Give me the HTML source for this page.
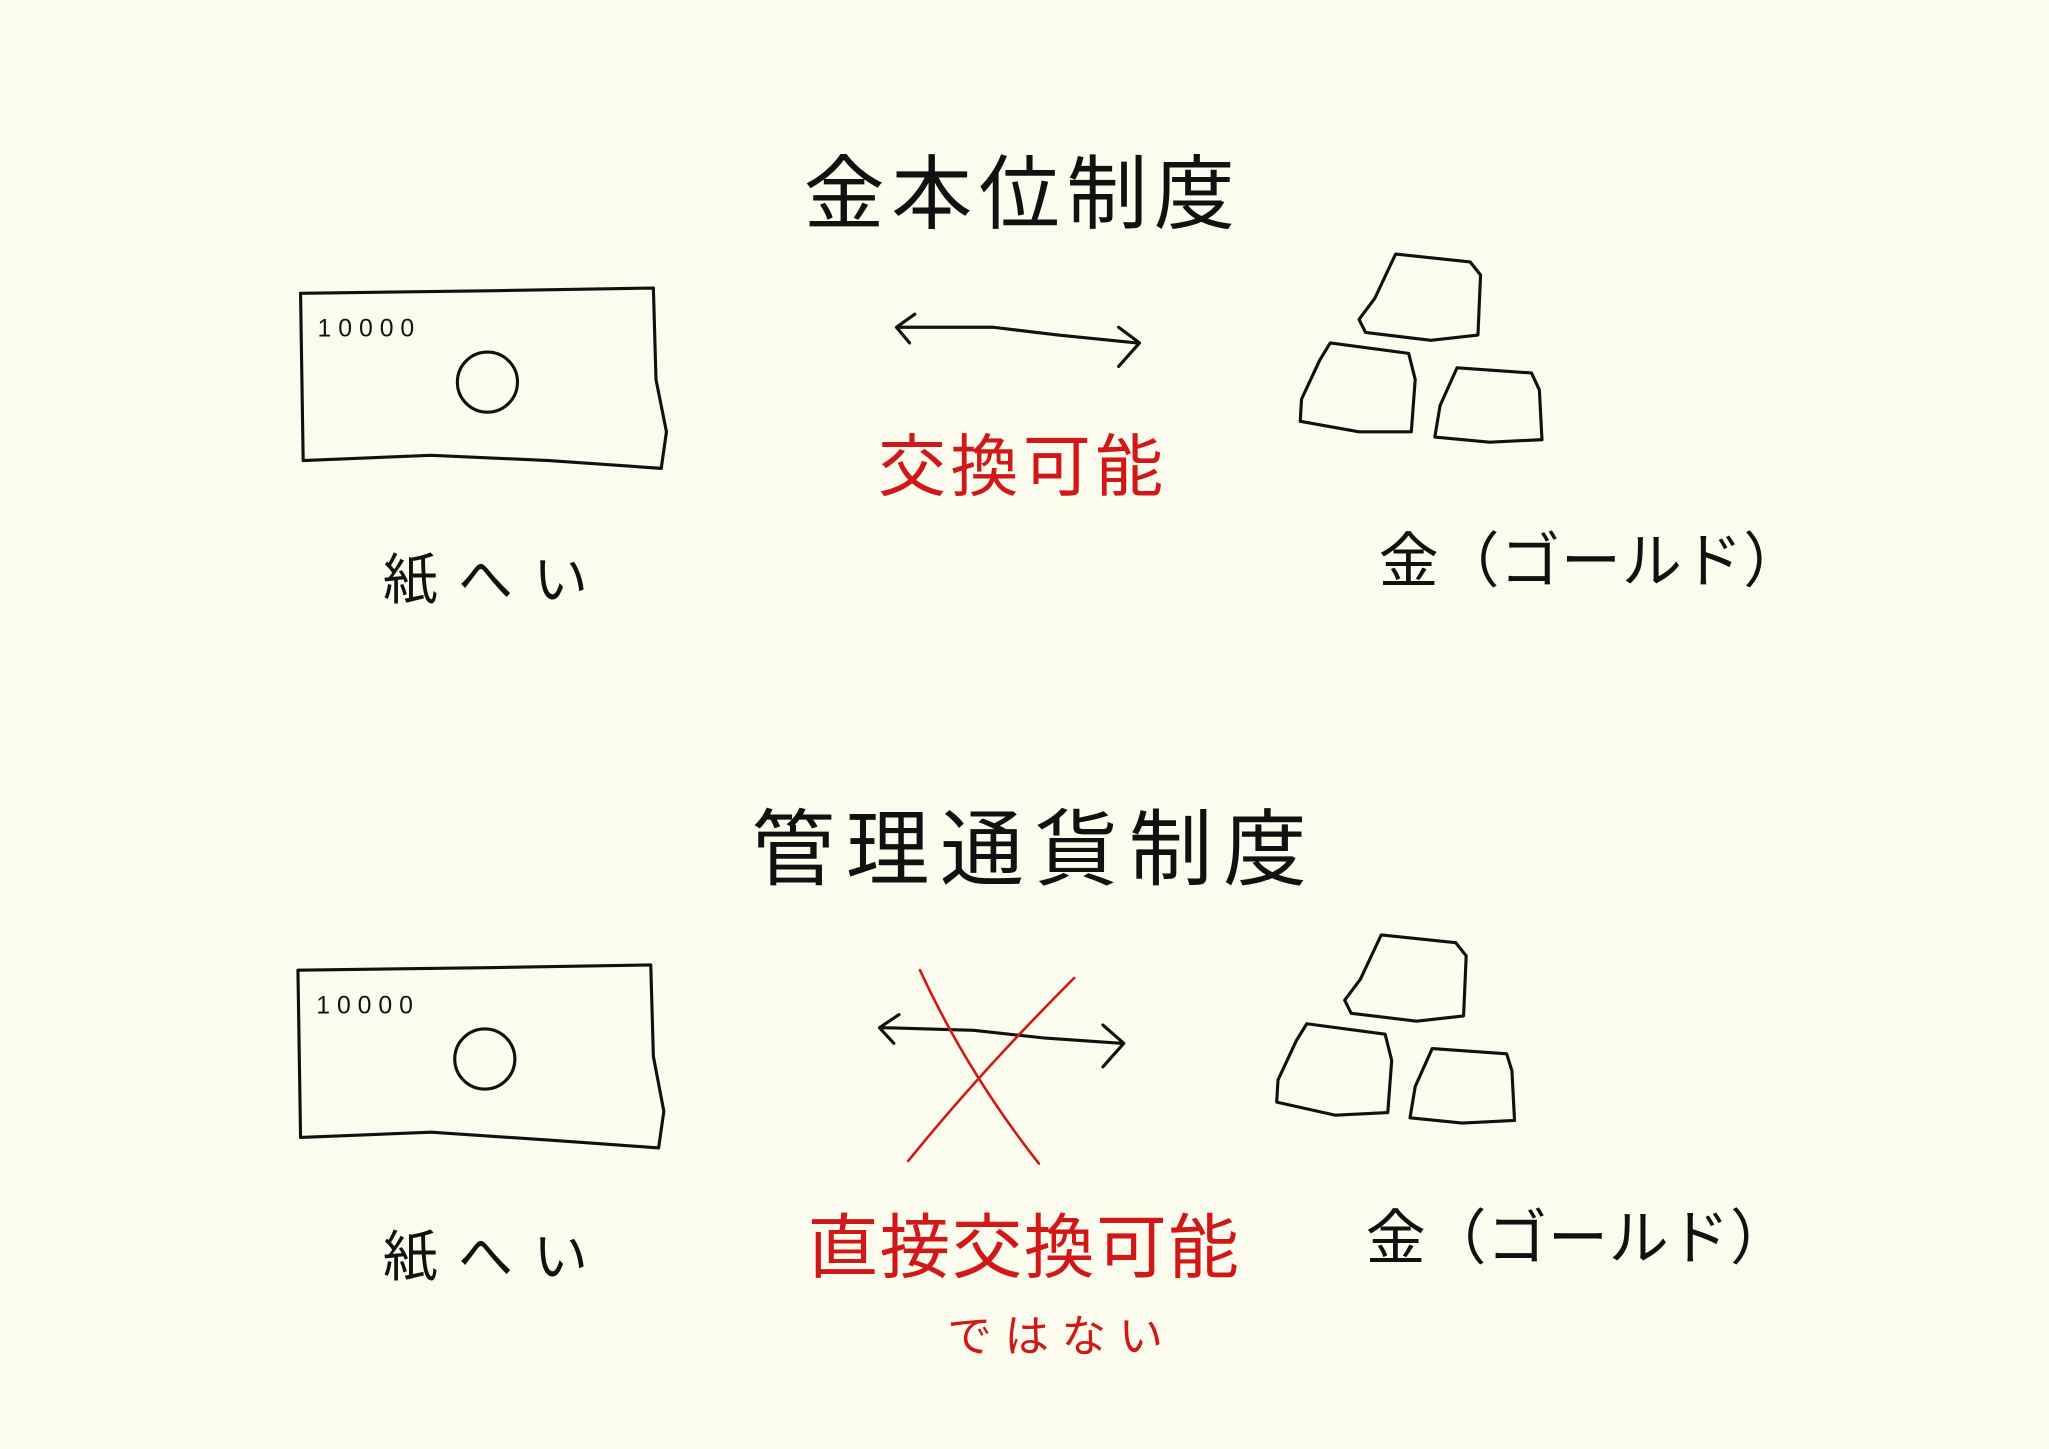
<!DOCTYPE html>
<html><head><meta charset="utf-8">
<style>
html,body{margin:0;padding:0;background:#fcfcee;}
svg{display:block;}
text{font-family:"Liberation Sans","Noto Sans CJK JP",sans-serif;}
</style></head>
<body>
<svg width="2049" height="1449" viewBox="0 0 1568 1108" xmlns="http://www.w3.org/2000/svg">
<rect width="1568" height="1108" fill="#fcfcee"/>
<g fill="none" stroke="#111" stroke-width="2.4" stroke-linejoin="round" stroke-linecap="round">
  <!-- bill 1 -->
  <path d="M230,224 L380,222 L500,220 L502,290 L510,330 L506,358 L420,352 L330,348 L232,352 Z"/>
  <circle cx="373" cy="292" r="23"/>
  <!-- arrow 1 -->
  <path d="M688,250 L760,250 L810,256 L870,262"/>
  <path d="M700,240 L686,250 L696,262"/>
  <path d="M856,250 L872,262 L856,280"/>
  <!-- gold 1 -->
  <path d="M1068,194 L1125,200 L1133,210 L1131,256 L1095,260 L1045,254 L1040,244 L1052,228 Z"/>
  <path d="M1018,262 L1078,270 L1083,290 L1080,330 L1040,330 L995,322 L996,305 L1010,275 Z"/>
  <path d="M1115,281 L1172,285 L1178,298 L1180,336 L1140,338 L1098,334 L1102,310 Z"/>
  <!-- bill 2 -->
  <path d="M228,742 L380,740 L498,738 L500,808 L508,850 L504,878 L420,872 L330,866 L230,870 Z"/>
  <circle cx="371" cy="810" r="23"/>
  <!-- arrow 2 -->
  <path d="M675,786 L745,788 L800,794 L858,798"/>
  <path d="M688,776 L673,786 L684,798"/>
  <path d="M844,784 L860,798 L844,816"/>
  <!-- gold 2 -->
  <g transform="translate(-11,521)">
  <path d="M1068,194 L1125,200 L1133,210 L1131,256 L1095,260 L1045,254 L1040,244 L1052,228 Z"/>
  <path d="M1011,262 L1071,270 L1076,290 L1073,330 L1033,332 L988,322 L989,305 L1003,275 Z"/>
  <path d="M1107,281 L1164,285 L1168,298 L1170,336 L1130,338 L1090,334 L1094,310 Z"/>
  </g>
</g>
<!-- red X -->
<g fill="none" stroke="#d01818" stroke-width="2" stroke-linecap="round">
  <path d="M704,742 Q740,820 795,890"/>
  <path d="M822,748 Q750,820 695,888"/>
</g>
<g fill="#111">
  <text x="615" y="170" font-size="62" textLength="330" lengthAdjust="spacing">金本位制度</text>
  <text x="243" y="257" font-size="19" textLength="74" lengthAdjust="spacing">10000</text>
  <text x="293" y="458" font-size="42" textLength="157" lengthAdjust="spacing">紙へい</text>
  <text x="1055" y="445" font-size="46" textLength="325" lengthAdjust="spacing">金（ゴールド）</text>
  <text x="575" y="672" font-size="64" textLength="425" lengthAdjust="spacing">管理通貨制度</text>
  <text x="242" y="775" font-size="19" textLength="74" lengthAdjust="spacing">10000</text>
  <text x="293" y="976" font-size="42" textLength="157" lengthAdjust="spacing">紙へい</text>
  <text x="1045" y="963" font-size="46" textLength="325" lengthAdjust="spacing">金（ゴールド）</text>
</g>
<g fill="#d01818">
  <text x="672" y="375" font-size="52" textLength="218" lengthAdjust="spacing">交換可能</text>
  <text x="618" y="973" font-size="54" textLength="330" lengthAdjust="spacing">直接交換可能</text>
  <text x="725" y="1034" font-size="34" textLength="165" lengthAdjust="spacing">ではない</text>
</g>
</svg>
</body></html>
